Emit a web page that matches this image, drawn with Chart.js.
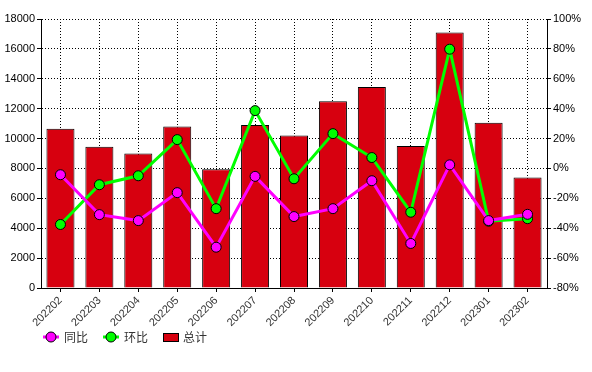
<!DOCTYPE html>
<html>
<head>
<meta charset="utf-8">
<script src="https://cdn.jsdelivr.net/npm/chart.js@4.4.0/dist/chart.umd.min.js"></script>
<style>
  html, body { margin: 0; padding: 0; background: #fff; }
  #wrap { width: 592px; height: 372px; position: relative; }
</style>
</head>
<body>
<div id="wrap"><canvas id="chart" width="592" height="372"></canvas></div>
<script>
// months on the x axis
const months = ['202202', '202203', '202204', '202205', '202206', '202207', '202208',
  '202209', '202210', '202211', '202212', '202301', '202302']

// 总计 (left axis)
const totals = [10650, 9450, 9000, 10800, 7950, 10900, 10200, 12500, 13450, 9500, 17100, 11050, 7400]

// 同比 / 环比 in percent (right axis)
const yoy = [-4.2, -30.9, -34.9, -16.2, -52.7, -5.3, -32.2, -26.9, -8.2, -50.2, 2.4, -34.9, -30.7]
const mom = [-37.5, -10.9, -4.9, 19.3, -26.9, 38.7, -6.9, 23.3, 7.3, -29.3, 79.8, -35.3, -33.6]

const labelFont = { family: 'Liberation Sans, Arial, sans-serif', size: 11 }

// legend drawn by hand: line + dot for the two lines, box for bars
const legendPlugin = {
  id: 'bottomLegend',
  afterDraw(chart) {
    const ctx = chart.ctx
    const y = 337
    ctx.save()
    ctx.font = '12px "Noto Sans CJK SC", sans-serif'
    ctx.textBaseline = 'middle'
    ctx.textAlign = 'left'

    const lineItem = (x0, color, text) => {
      ctx.strokeStyle = color
      ctx.lineWidth = 3
      ctx.beginPath()
      ctx.moveTo(x0, y)
      ctx.lineTo(x0 + 16, y)
      ctx.stroke()
      ctx.beginPath()
      ctx.arc(x0 + 8, y, 5, 0, Math.PI * 2)
      ctx.fillStyle = color
      ctx.fill()
      ctx.lineWidth = 1
      ctx.strokeStyle = '#000'
      ctx.stroke()
      ctx.fillStyle = '#333'
      ctx.fillText(text, x0 + 21, y)
    }
    lineItem(43, '#ff00ff', '同比')
    lineItem(103, '#00ff00', '环比')

    ctx.fillStyle = '#d7000f'
    ctx.fillRect(163.5, 333.5, 15, 8)
    ctx.strokeStyle = '#000'
    ctx.lineWidth = 1
    ctx.strokeRect(163.5, 333.5, 15, 8)
    ctx.fillStyle = '#333'
    ctx.fillText('总计', 183, y)
    ctx.restore()
  }
}

new Chart(document.getElementById('chart'), {
  type: 'bar',
  data: {
    labels: months,
    datasets: [
      {
        type: 'line',
        label: '同比',
        data: yoy,
        yAxisID: 'y1',
        borderColor: '#ff00ff',
        backgroundColor: '#ff00ff',
        borderWidth: 3,
        pointRadius: 5,
        pointBorderColor: '#000',
        pointBorderWidth: 1,
        pointBackgroundColor: '#ff00ff',
        tension: 0,
        order: 0
      },
      {
        type: 'line',
        label: '环比',
        data: mom,
        yAxisID: 'y1',
        borderColor: '#00ff00',
        backgroundColor: '#00ff00',
        borderWidth: 3,
        pointRadius: 5,
        pointBorderColor: '#000',
        pointBorderWidth: 1,
        pointBackgroundColor: '#00ff00',
        tension: 0,
        order: 1
      },
      {
        label: '总计',
        data: totals,
        yAxisID: 'y',
        backgroundColor: '#d7000f',
        borderColor: '#000',
        borderWidth: 1,
        categoryPercentage: 0.72,
        barPercentage: 1,
        order: 2
      }
    ]
  },
  options: {
    responsive: false,
    animation: false,
    layout: { padding: { top: 19, left: 0, right: 0, bottom: 0 } },
    plugins: {
      legend: { display: false },
      tooltip: { enabled: false }
    },
    scales: {
      x: {
        grid: {
          offset: false,
          color: '#000',
          tickBorderDash: [],
          tickLength: 4
        },
        border: { color: '#000', width: 1, dash: [1, 2] },
        ticks: {
          color: '#333',
          font: labelFont,
          minRotation: 45,
          maxRotation: 45,
          padding: 2
        },
        afterFit(scale) { scale.height = 84 }
      },
      y: {
        position: 'left',
        min: 0,
        max: 18000,
        ticks: {
          stepSize: 2000,
          color: '#000',
          font: labelFont,
          padding: 2,
          callback: (v) => String(v)
        },
        grid: {
          color: '#000',
          tickBorderDash: [],
          tickLength: 4
        },
        border: { color: '#000', width: 1, dash: [1, 2] },
        afterFit(scale) { scale.width = 41 }
      },
      y1: {
        position: 'right',
        min: -80,
        max: 100,
        ticks: {
          stepSize: 20,
          color: '#000',
          font: labelFont,
          padding: 2,
          callback: (v) => v + '%'
        },
        grid: { drawOnChartArea: false, color: '#000', tickLength: 4 },
        border: { color: '#000', width: 1 },
        afterFit(scale) { scale.width = 45 }
      }
    }
  },
  plugins: [legendPlugin]
})
</script>
</body>
</html>
